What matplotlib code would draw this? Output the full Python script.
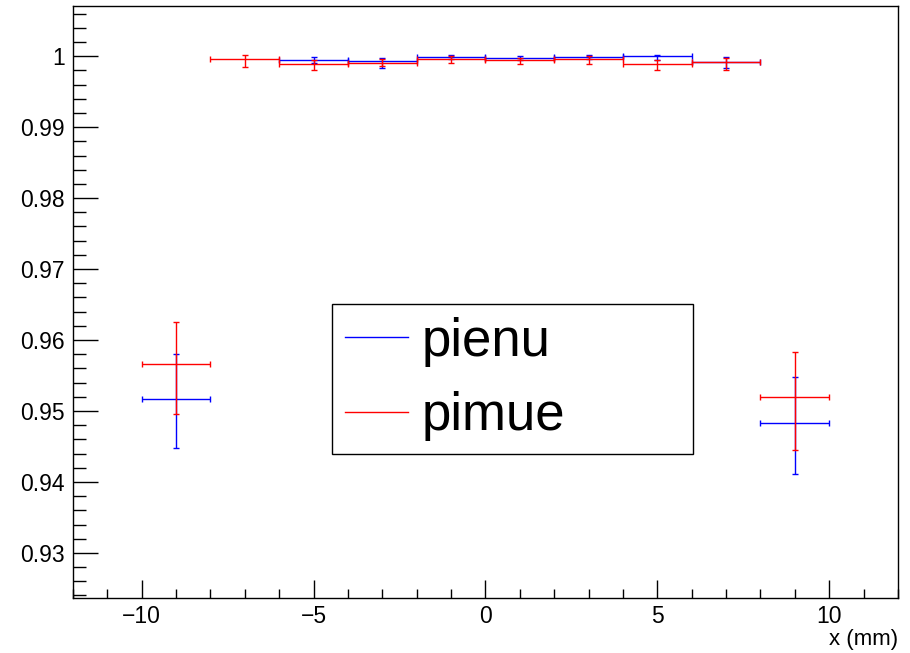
import numpy as np
import matplotlib
matplotlib.use("Agg")
import matplotlib.pyplot as plt
from matplotlib.ticker import MultipleLocator, FuncFormatter
from matplotlib.lines import Line2D

plt.rcParams["font.family"] = ["Liberation Sans", "DejaVu Sans"]

# pienu efficiency vs x (asymmetric errors)
pienu_x = [-9, -5, -3, -1, 1, 3, 5, 7, 9]
pienu_y = [0.95173, 0.99948, 0.99934, 0.99995, 0.99972, 0.9999, 0.99998, 0.99915, 0.94837]
pienu_lo = [0.00689, 0.0004, 0.0010, 0.0003, 0.0003, 0.0003, 0.0005, 0.0008, 0.00726]
pienu_hi = [0.00631, 0.00038, 0.00042, 0.0002, 0.00024, 0.0002, 0.0002, 0.0008, 0.00641]

# pimue efficiency vs x
pimue_x = [-9, -7, -5, -3, -1, 1, 3, 5, 7, 9]
pimue_y = [0.95662, 0.99967, 0.99887, 0.99897, 0.99967, 0.99943, 0.99958, 0.99891, 0.99911, 0.95195]
pimue_lo = [0.00702, 0.00113, 0.00085, 0.00042, 0.0006, 0.00052, 0.0007, 0.0009, 0.0011, 0.0075]
pimue_hi = [0.00594, 0.00047, 0.00057, 0.00057, 0.0003, 0.0003, 0.0004, 0.0006, 0.00065, 0.00642]

bin_half = 1.0

fig = plt.figure(figsize=(9.1, 6.53), dpi=100)
ax = fig.add_axes([0.0802, 0.0842, 0.9066, 0.9066])

ax.errorbar(pienu_x, pienu_y, xerr=bin_half, yerr=[pienu_lo, pienu_hi],
            fmt="none", ecolor="blue", elinewidth=1.0, capsize=2.5,
            capthick=1.0)
ax.errorbar(pimue_x, pimue_y, xerr=bin_half, yerr=[pimue_lo, pimue_hi],
            fmt="none", ecolor="red", elinewidth=1.0, capsize=2.5,
            capthick=1.0)

ax.set_xlim(-12, 12)
ax.set_ylim(0.92364, 1.00707)

ax.xaxis.set_major_locator(MultipleLocator(5))
ax.xaxis.set_minor_locator(MultipleLocator(1))
ax.yaxis.set_major_locator(MultipleLocator(0.01))
ax.yaxis.set_minor_locator(MultipleLocator(0.002))
ax.yaxis.set_major_formatter(FuncFormatter(lambda v, p: f"{v:g}"))

ax.tick_params(axis="both", which="both", direction="in", labelsize=16.5,
               top=False, right=False)
ax.tick_params(axis="y", which="major", length=18, width=1, pad=6)
ax.tick_params(axis="y", which="minor", length=9, width=1)
ax.tick_params(axis="x", which="major", length=12.8, width=1, pad=5)
ax.tick_params(axis="x", which="minor", length=6.4, width=1)
for s in ax.spines.values():
    s.set_linewidth(1.0)

ax.set_xlabel("x (mm)", fontsize=16, loc="right", labelpad=1)

handles = [Line2D([], [], color="blue", lw=1), Line2D([], [], color="red", lw=1)]
leg = ax.legend(handles, ["pienu", "pimue"], loc="upper left",
                bbox_to_anchor=(332 / 910, 1 - 452 / 653, 361 / 910, 148 / 653),
                bbox_transform=fig.transFigure, mode="expand",
                fontsize=38, frameon=True, fancybox=False, shadow=False,
                edgecolor="black", framealpha=1, borderaxespad=0,
                handlelength=1.2, handletextpad=0.25, borderpad=0.24,
                labelspacing=0.47)
leg.get_frame().set_linewidth(1.0)

fig.savefig("out.png", dpi=100)
